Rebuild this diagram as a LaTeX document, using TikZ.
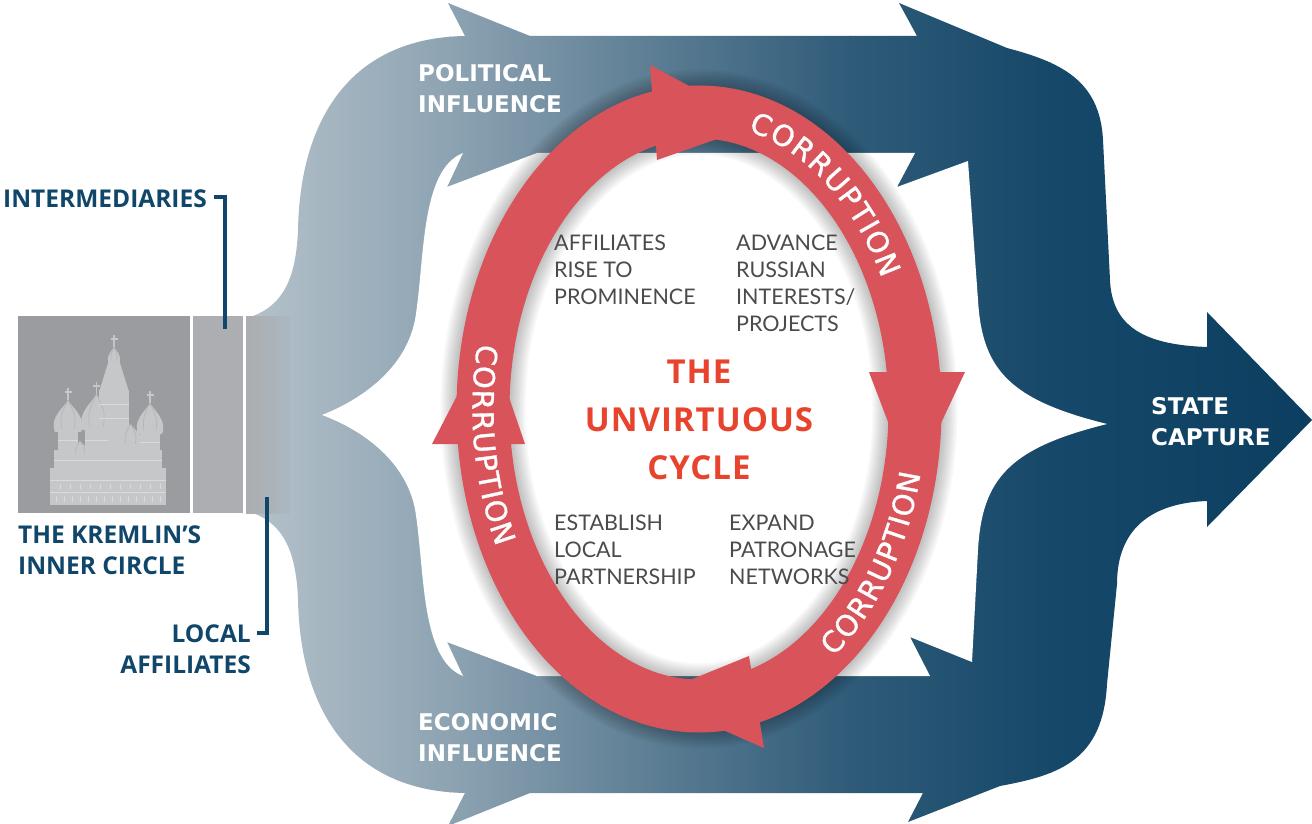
\documentclass[tikz,border=0pt]{standalone}
\usepackage{fontspec}
\setmainfont{Lato}
\newfontfamily\navyfont{Open Sans}
\newfontfamily\bandfont{DejaVu Sans}
\newfontfamily\titlefont{Open Sans}[LetterSpace=3.0]
\newfontfamily\bodyfont{Lato}
\newfontfamily\ringfont{DejaVu Sans}[FakeBold=1.2]

\definecolor{navy}{HTML}{0F4669}
\definecolor{fl0}{HTML}{B4C1CA}
\definecolor{fl1}{HTML}{8DA3B2}
\definecolor{fl2}{HTML}{5D7E94}
\definecolor{fl3}{HTML}{2F5B79}
\definecolor{fl4}{HTML}{164869}
\definecolor{fl5}{HTML}{0B3E60}
\definecolor{boxa}{HTML}{9B9C9F}
\definecolor{boxb}{HTML}{ADAEB1}
\definecolor{boxcl}{HTML}{ACADB0}
\definecolor{boxcr}{HTML}{ABB8C1}
\definecolor{cathfill}{HTML}{C6C7C9}
\definecolor{cathline}{HTML}{DADADB}
\definecolor{cathdark}{HTML}{B3B4B6}
\definecolor{ringred}{HTML}{D9545A}
\definecolor{titlered}{HTML}{E8432D}
\definecolor{bodygray}{HTML}{4B4B4D}

\newcommand\tstackl[1]{\begin{tabular}[t]{@{}l@{}}#1\end{tabular}}
\newcommand\tstackc[1]{\begin{tabular}[t]{@{}c@{}}#1\end{tabular}}
\newcommand\tstackr[1]{\begin{tabular}[t]{@{}r@{}}#1\end{tabular}}
\newcommand\cathdome[4]{%
  \fill[cathfill] (#1-#3,#2) .. controls (#1-1.45*#3,#2-0.45*#4) and (#1-0.35*#3,#2-0.75*#4) .. (#1,#2-#4)
    .. controls (#1+0.35*#3,#2-0.75*#4) and (#1+1.45*#3,#2-0.45*#4) .. (#1+#3,#2) -- cycle;
  \draw[cathdark, line width=0.6pt] (#1-0.5*#3,#2-0.1*#4) .. controls (#1-0.6*#3,#2-0.5*#4) .. (#1,#2-#4)
    (#1+0.5*#3,#2-0.1*#4) .. controls (#1+0.6*#3,#2-0.5*#4) .. (#1,#2-#4);}
\newcommand\cathcross[2]{%
  \draw[cathfill, line width=1.4pt] (#1,#2) -- (#1,#2-12) (#1-3.5,#2-8) -- (#1+3.5,#2-8);}
% letters of CORRUPTION along an ellipse centred at (699,409)
% #1 a, #2 b, #3 centre angle, #4 direction (+1 ccw, -1 cw), #5 name prefix
\newcommand\ringword[5]{%
  \foreach \ch/\s [count=\n] in {C/-93.08, O/-70.05, R/-47.06, R/-25.40, U/-3.20, P/17.66, T/36.76, I/51.40, O/68.59, N/92.35}{%
    \pgfmathsetmacro\va{100*sqrt((#1/100*sin(#3))^2+(#2/100*cos(#3))^2)}%
    \pgfmathsetmacro\tha{#3+#4*\s/\va*57.2958}%
    \pgfmathsetmacro\thm{(#3+\tha)/2}%
    \pgfmathsetmacro\vb{100*sqrt((#1/100*sin(\thm))^2+(#2/100*cos(\thm))^2)}%
    \pgfmathsetmacro\th{#3+#4*\s/\vb*57.2958}%
    \pgfmathsetmacro\rot{atan2(#4*#2/100*cos(\th), -#4*#1/100*sin(\th))}%
    \node[ringletter, rotate=\rot] (#5\n) at ({699+#1*cos(\th)}, {409-#2*sin(\th)}) {\ch};
  }}

\tikzset{
  bandtxt/.style={font=\bandfont\bfseries\fontsize{23}{31}\selectfont, text=white, anchor=base west, inner sep=0pt},
  bodytxt/.style={font=\bodyfont\fontsize{21.5}{27}\selectfont, text=bodygray, anchor=base west, inner sep=0pt},
  navytxt/.style={font=\navyfont\bfseries\fontsize{24.5}{31}\selectfont, text=navy, inner sep=0pt},
  leader/.style={draw=navy, line width=4pt},
  ringletter/.style={font=\ringfont\fontsize{29}{33}\selectfont, text=white, anchor=base, inner sep=0pt},
  headfill/.style={fill=ringred},
}

\begin{document}
\begin{tikzpicture}[x=1pt,y=-1pt]
\useasboundingbox (0,0) rectangle (1312,824);
\fill[white] (0,0) rectangle (1312,824);

% ---------- blue flow shape ----------
\begin{scope}
\clip (253,316) .. controls (282,305) and (296,280) .. (298,230)
  .. controls (300,120) and (350,38) .. (465,36)
  -- (448,3) -- (530,36) -- (917,36) -- (899,3) -- (1007,48)
  .. controls (1060,62) and (1100,80) .. (1103,140)
  -- (1110,280) .. controls (1112,330) and (1150,345) .. (1207,347)
  -- (1207,312) -- (1312,420) -- (1207,527) -- (1207,501)
  .. controls (1150,503) and (1117,530) .. (1117,584)
  -- (1107,684) .. controls (1103,760) and (1060,775) .. (1000,786)
  -- (908,822) -- (923,793) -- (530,793) -- (448,826) -- (465,793)
  .. controls (350,791) and (300,709) .. (298,599)
  .. controls (296,549) and (282,524) .. (253,513) -- cycle;
\shade[left color=fl0, right color=fl1] (250,0) rectangle (451,830);
\shade[left color=fl1, right color=fl2] (450,0) rectangle (651,830);
\shade[left color=fl2, right color=fl3] (650,0) rectangle (851,830);
\shade[left color=fl3, right color=fl4] (850,0) rectangle (1051,830);
\shade[left color=fl4, right color=fl5] (1050,0) rectangle (1313,830);
\end{scope}
\fill[white] (322,415) .. controls (360,400) and (405,370) .. (415,320)
  .. controls (425,260) and (420,170) .. (463,153)
  -- (447,187) -- (537,153) -- (915,153) -- (897,187) -- (968,161)
  -- (978,300) .. controls (982,370) and (1010,400) .. (1107,424)
  .. controls (1010,448) and (982,478) .. (978,550)
  -- (972,662) -- (910,637) -- (930,676) -- (537,676) -- (447,642) -- (463,676)
  .. controls (420,659) and (425,569) .. (415,509)
  .. controls (405,459) and (360,429) .. (322,415) -- cycle;

% ---------- Kremlin boxes ----------
\node[fill=boxa, minimum width=172pt, minimum height=197pt, inner sep=0pt, anchor=north west] (kremlin) at (18,316) {};
\node[fill=boxb, minimum width=50pt, minimum height=197pt, inner sep=0pt, anchor=north west] (interbox) at (193,316) {};
\node[left color=boxcl, right color=boxcr, minimum width=44pt, minimum height=197pt, inner sep=0pt, anchor=north west] (localbox) at (246,316) {};

% cathedral
\fill[cathfill] (50,505) rectangle (166,468);
\fill[cathfill] (54,468) rectangle (162,450);
\fill[cathfill] (58,452) rectangle (78,430);
\fill[cathfill] (85,452) rectangle (108,428);
\fill[cathfill] (140,452) rectangle (160,432);
\fill[cathfill] (99,452) rectangle (129,390);
\fill[cathfill] (120,452) rectangle (141,442);
\fill[cathfill] (99,392) -- (109,360) -- (119,360) -- (129,392) -- cycle;
\fill[cathfill] (150,468) -- (156,452) -- (162,468) -- cycle;
\fill[cathfill] (64,468) -- (70,454) -- (76,468) -- cycle;
\cathdome{68}{432}{13}{32}
\cathdome{96.5}{430}{14}{36}
\cathdome{150}{434}{12}{31}
\cathdome{130.5}{446}{10}{22}
\cathdome{114}{362}{5.5}{15}
\cathdome{80}{456}{8}{15}
\cathcross{68}{400}
\cathcross{96.5}{394}
\cathcross{150}{403}
\cathcross{114}{347}
\draw[cathline, line width=0.8pt] (50,480) -- (166,480) (50,492) -- (166,492) (54,460) -- (162,460)
  (99,404) -- (129,404) (99,418) -- (129,418) (58,440) -- (78,440) (85,440) -- (108,440) (140,442) -- (160,442);
\foreach \xx in {56,64,...,160} \draw[cathline, line width=0.8pt] (\xx,496) -- (\xx,502);
\foreach \xx in {60,70,...,160} \draw[cathline, line width=0.8pt] (\xx,484) -- (\xx,489);

% ---------- left labels ----------
\node[navytxt, anchor=base west] (intermed) at (3,207) {INTERMEDIARIES};
\node[navytxt, anchor=base west] (kremlinlbl) at (18,543) {\tstackl{THE KREMLIN’S\\INNER CIRCLE}};
\node[navytxt, anchor=base east] (locallbl) at (251,642) {\tstackr{LOCAL\\AFFILIATES}};
\coordinate (iA) at (214,197);
\coordinate (iB) at (224.5,197);
\coordinate (iC) at (224.5,329);
\draw[leader] (iA) -- (iB) -- (iC);
\coordinate (lA) at (257,632.5);
\coordinate (lB) at (266.5,632.5);
\coordinate (lC) at (266.5,497);
\draw[leader] (lA) -- (lB) -- (lC);

% ---------- band labels ----------
\node[bandtxt] (pol) at (418,82) {\tstackl{POLITICAL\\INFLUENCE}};
\node[bandtxt] (eco) at (418,730) {\tstackl{ECONOMIC\\INFLUENCE}};
\node[bandtxt] (state) at (1151,414) {\tstackl{STATE\\CAPTURE}};

% ---------- red cycle ----------
\begin{scope}[shift={(699,409)}]
\foreach \k in {1,...,8}{
  \pgfmathsetmacro\lw{53+4*\k}
  \draw[black, opacity=0.03, line width=\lw pt] (0,0) ellipse [x radius=216pt, y radius=297pt];
}
\draw[ringred, line width=53pt] (0,0) ellipse [x radius=216pt, y radius=297pt];
\end{scope}
\fill[headfill] (650,65) -- (760,124) -- (657,160) -- cycle;
\fill[headfill] (869,372) -- (965,372) -- (912,485) -- cycle;
\fill[headfill] (764,748) -- (648,697) -- (749,656) -- cycle;
\fill[headfill] (432,444) -- (488,336) -- (525,444) -- cycle;

\ringword{205.5}{286.5}{50}{-1}{ta}
\ringword{226.5}{307.5}{187}{1}{tl}
\ringword{226.5}{307.5}{-32}{1}{tr}

% ---------- inner texts ----------
\node[bodytxt] (aff) at (554,250) {\tstackl{AFFILIATES\\RISE TO\\PROMINENCE}};
\node[bodytxt] (adv) at (736,250) {\tstackl{ADVANCE\\RUSSIAN\\INTERESTS/\\PROJECTS}};
\node[bodytxt] (est) at (554,530) {\tstackl{ESTABLISH\\LOCAL\\PARTNERSHIP}};
\node[bodytxt] (exp) at (729,530) {\tstackl{EXPAND\\PATRONAGE\\NETWORKS}};
\node[font=\titlefont\bfseries\fontsize{33}{48}\selectfont, text=titlered, anchor=base, inner sep=0pt]
  (title) at (699,383) {\tstackc{THE\\UNVIRTUOUS\\CYCLE}};
\end{tikzpicture}
\end{document}
